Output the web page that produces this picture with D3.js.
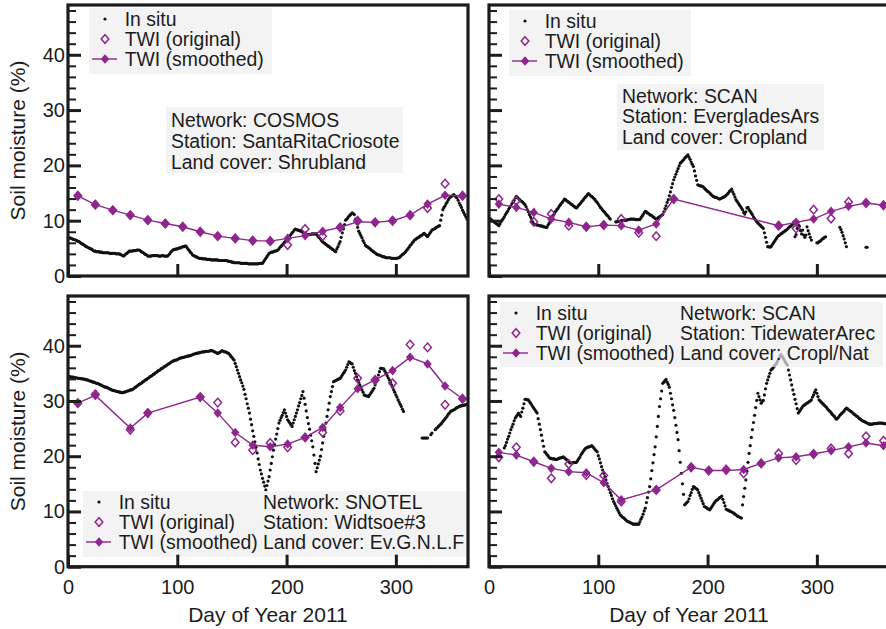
<!DOCTYPE html>
<html>
<head>
<meta charset="utf-8">
<script src="https://cdn.jsdelivr.net/npm/d3@7"></script>
<style>
  body { margin: 0; background: #fff; }
  svg { display: block; font-family: "Liberation Sans", Arial, sans-serif; }
</style>
</head>
<body>
<div id="area"></div>
<script>
// 16-day composite dates (day of year)
const twiDays = [9, 25, 41, 57, 73, 89, 105, 121, 137, 153, 169, 185, 201, 217, 233, 249, 265, 281, 297, 313, 329, 345, 361];

const xTickLabels = [0, 100, 200, 300];
const yTickLabels = [0, 10, 20, 30, 40];

const legendLabels = ['In situ', 'TWI (original)', 'TWI (smoothed)'];

// --- COSMOS / SantaRitaCriosote ---
const cosmosSmooth = [14.5, 12.9, 11.9, 11.0, 10.1, 9.5, 8.9, 8.0, 7.2, 6.8, 6.4, 6.3, 6.8, 7.3, 8.1, 8.8, 9.8, 9.7, 10.0, 11.0, 13.0, 14.6, 14.5];
const cosmosOrig = [14.5, 12.9, 11.9, 11.0, 10.1, 9.5, 8.9, 8.0, 7.2, 6.8, 6.4, 6.3, 5.6, 8.5, 7.2, 8.8, 10.0, 9.7, 10.0, 11.0, 12.3, 16.7, 14.5];
const cosmosInsitu = [
  6.9,6.9,6.8,6.7,6.6,6.6,6.5,6.4,6.3,6.2, 6.1,5.9,5.8,5.7,5.6,5.4,5.3,5.2,5.1,5.0,
  4.9,4.8,4.6,4.5,4.5,4.4,4.4,4.4,4.3,4.3, 4.3,4.2,4.2,4.2,4.2,4.2,4.2,4.1,4.1,4.1,
  4.1,4.1,4.1,4.0,4.0,4.0,4.0,3.9,3.8,3.7, 3.6,3.8,4.0,4.1,4.3,4.5,4.5,4.5,4.5,4.6,
  4.6,4.6,4.7,4.7,4.7,4.6,4.4,4.3,4.2,4.0, 3.9,3.8,3.6,3.6,3.6,3.6,3.7,3.7,3.7,3.7,
  3.7,3.7,3.6,3.6,3.6,3.7,3.7,3.6,3.6,3.6, 3.6,3.8,4.0,4.3,4.5,4.7,4.8,4.8,4.9,4.9,
  5.0,5.1,5.1,5.2,5.3,5.3,5.4,5.4,5.1,4.8, 4.6,4.3,4.1,3.8,3.7,3.6,3.5,3.4,3.3,3.2,
  3.2,3.2,3.1,3.1,3.1,3.1,3.0,3.0,3.0,3.0, 2.9,2.9,2.9,2.9,2.9,2.9,2.9,2.8,2.8,2.8,
  2.8,2.8,2.8,2.8,2.8,2.7,2.7,2.6,2.6,2.5, 2.5,2.4,2.4,2.4,2.4,2.4,2.4,2.3,2.3,2.3,
  2.3,2.3,2.3,2.3,2.2,2.2,2.2,2.2,2.2,2.2, 2.2,2.2,2.2,2.2,2.3,2.3,2.3,2.3,2.6,2.9,
  3.2,3.5,3.8,4.1,4.2,4.3,4.3,4.4,4.5,4.5, 4.6,4.7,4.9,5.2,5.4,5.6,5.8,6.1,6.3,6.6,
  6.8,7.0,7.3,7.5,7.8,8.0,8.3,8.5,8.4,8.3, 8.3,8.2,8.1,8.0,7.9,7.7,7.6,7.5,7.5,7.5,
  7.5,7.5,7.6,7.6,7.6,7.6,7.6,7.4,7.1,6.9, 6.7,6.4,6.2,6.0,5.9,5.7,5.6,5.4,5.3,5.1,
  5.0,4.8,4.7,4.5,4.4,4.9,5.3,5.8,6.2,7.0, 7.8,8.5,9.3,10.1,10.3,10.5,10.8,11.0,11.2,11.4,
  11.3,11.1,10.3,9.6,8.8,8.1,7.7,7.3,6.9,6.4, 6.0,5.6,5.4,5.3,5.1,5.0,4.8,4.6,4.5,4.3,
  4.2,4.0,3.9,3.8,3.8,3.7,3.6,3.5,3.5,3.4, 3.3,3.3,3.3,3.3,3.3,3.2,3.2,3.2,3.2,3.2,
  3.2,3.3,3.3,3.5,3.7,3.9,4.0,4.2,4.4,4.7, 4.9,5.2,5.5,5.7,6.0,6.2,6.5,6.6,6.8,6.9,
  7.0,7.2,7.3,7.4,7.6,7.7,7.5,7.3,7.1,7.4, 7.7,8.0,8.3,8.4,8.5,8.6,8.8,8.9,9.0,9.1,
  10.1,11.0,12.0,12.4,12.7,13.1,13.4,13.8,14.1,14.3, 14.4,14.6,14.7,14.5,14.3,14.1,13.7,13.2,12.8,12.4,
  11.9,11.5,11.1,10.7,10.3
];

// --- SCAN / EvergladesArs ---
const evergSmooth = [13.0, 12.4, 11.5, 10.3, 9.7, 8.9, 9.2, 9.1, 8.3, 9.4, 13.9, null, null, null, null, null, 9.1, 9.7, 10.3, 11.7, 12.6, 13.2, 12.8];
const evergOrig = [13.9, 13.6, 9.8, 11.2, 9.1, 8.9, 9.2, 10.3, 7.8, 7.2, 13.9, null, null, null, null, null, 9.1, 8.6, 12.0, 10.4, 13.4, 13.2, 12.8];
const evergInsitu = [
  10.4,10.2,10.0,9.9,9.7,9.6,9.4,9.3,9.1,9.4, 9.8,10.1,10.4,10.7,11.1,11.4,11.7,12.1,12.4,12.7,
  13.1,13.4,13.7,14.1,14.4,14.2,14.0,13.8,13.6,13.5, 13.3,13.1,12.9,12.5,12.0,11.6,11.1,10.7,10.3,9.8,
  9.4,9.3,9.3,9.2,9.2,9.1,9.1,9.0,9.0,8.9, 8.9,8.8,8.8,9.2,9.5,9.9,10.3,10.7,11.0,11.4,
  11.7,12.0,12.2,12.5,12.8,13.1,13.3,13.6,13.9,13.8, 13.6,13.5,13.3,13.2,13.0,12.9,12.7,12.6,12.4,12.3,
  12.5,12.8,13.0,13.2,13.5,13.7,14.0,14.2,14.4,14.7, 14.9,14.7,14.5,14.4,14.2,14.0,13.8,13.5,13.3,13.0,
  12.7,12.4,12.2,11.9,11.7,11.5,11.2,11.0,10.8,10.5, 10.3,null,null,null,null,9.8,9.8,9.9,9.9,9.9,
  10.0,10.0,10.0,10.1,10.1,10.1,10.2,10.2,10.3,10.3, 10.3,10.3,10.3,10.2,10.2,10.2,10.2,10.2,10.5,10.8,
  11.1,11.4,11.7,11.6,11.4,11.3,11.1,11.0,10.9,10.7, 10.6,10.4,10.3,10.4,10.6,10.7,10.8,11.0,11.1,11.6,
  12.2,12.7,13.3,13.8,14.5,15.2,16.0,16.7,17.4,17.9, 18.4,18.9,19.4,19.9,20.4,20.6,20.8,21.0,21.3,21.5,
  21.7,21.9,21.5,21.1,20.6,20.2,19.8,19.0,18.1,17.3, 16.5,16.4,16.3,16.3,16.2,16.1,15.9,15.7,15.5,15.3,
  15.2,15.0,14.8,14.6,14.4,14.3,14.2,14.2,14.1,14.0, 13.9,14.0,14.1,14.2,14.3,14.4,14.6,14.8,15.0,15.3,
  15.5,15.7,15.2,14.8,14.3,13.8,13.5,13.2,12.9,12.6, 12.3,12.0,11.5,11.2,11.6,12.3,12.4,12.0,11.7,11.4,
  11.1,10.7,10.4,10.1,9.8,9.6,9.4,9.2,9.0,8.8, 8.6,7.8,7.0,6.1,5.3,5.3,5.2,5.3,5.6,5.9,
  6.2,6.5,6.8,7.1,7.3,7.4,7.6,7.7,7.9,8.0, 8.2,8.3,8.5,8.7,8.9,9.0,9.2,9.4,9.8,7.1,
  7.5,8.6,9.2,9.0,8.2,7.6,8.3,7.4,7.0,7.4, 8.9,8.2,7.6,7.0,6.5,null,null,null,null,6.0,
  6.0,6.2,6.3,6.5,6.7,6.8,7.0,7.1,null,null, null,null,null,null,null,null,null,null,null,null,
  8.8,8.4,7.9,7.3,6.7,6.0,5.3,null,null,null, null,null,null,null,null,null,null,null,null,null,
  null,null,null,null,5.2,5.2,null,null,null,null, null,null,null,null,null,null,null,null,null,null,
  null,null,null,null,null
];

// --- SNOTEL / Widtsoe#3 ---
const snotelSmooth = [29.6, 31.0, null, 25.1, 27.8, null, null, 30.7, 27.8, 24.3, 22.0, 21.7, 22.2, 23.4, 25.2, 28.8, 32.2, 33.8, 35.5, 37.9, 36.7, 32.7, 30.4];
const snotelOrig = [29.6, 31.2, null, 24.8, 27.8, null, null, 30.7, 29.7, 22.5, 21.1, 22.4, 21.6, 23.4, 24.3, 28.2, 34.1, 33.8, 33.2, 40.2, 39.7, 29.3, 30.4];
const snotelInsitu = [
  34.4,34.4,34.3,34.3,34.3,34.2,34.2,34.2,34.1,34.1, 34.1,34.0,34.0,34.0,33.9,33.9,33.8,33.8,33.7,33.6,
  33.6,33.5,33.4,33.4,33.3,33.2,33.2,33.1,33.0,32.9, 32.8,32.7,32.6,32.5,32.5,32.4,32.3,32.2,32.1,32.0,
  31.9,31.9,31.8,31.8,31.7,31.7,31.6,31.6,31.5,31.5, 31.6,31.6,31.7,31.8,31.8,31.9,32.0,32.0,32.1,32.2,
  32.4,32.5,32.7,32.8,33.0,33.1,33.2,33.4,33.5,33.7, 33.8,33.9,34.1,34.2,34.4,34.5,34.6,34.8,34.9,35.1,
  35.2,35.4,35.5,35.6,35.8,35.9,36.0,36.2,36.3,36.4, 36.6,36.7,36.8,37.0,37.1,37.2,37.3,37.4,37.4,37.5,
  37.6,37.7,37.8,37.8,37.9,37.9,38.0,38.0,38.1,38.1, 38.2,38.2,38.3,38.4,38.5,38.5,38.6,38.6,38.7,38.7,
  38.8,38.8,38.9,38.9,38.9,39.0,39.0,39.0,39.0,39.1, 39.1,39.1,39.0,38.9,38.8,38.7,38.6,38.7,38.8,39.0,
  39.1,39.0,38.9,38.9,38.8,38.7,38.6,38.4,38.1,37.9, 37.6,37.4,36.8,36.2,35.6,35.0,34.4,33.8,33.3,32.7,
  32.1,31.2,30.4,29.5,28.7,27.8,26.7,25.7,24.6,23.6, 22.6,21.6,20.6,19.5,18.5,17.5,16.8,16.0,15.3,14.6,
  13.9,14.7,15.5,16.3,17.5,18.7,19.9,21.1,22.1,23.1, 24.0,25.0,26.0,26.5,27.0,27.4,27.9,28.4,27.8,27.2,
  26.6,26.3,26.0,25.7,25.4,26.0,26.6,27.2,27.8,28.4, 29.1,29.7,30.4,31.0,31.7,30.5,29.4,28.2,27.0,25.9,
  24.9,23.8,22.8,21.7,20.2,18.7,17.2,17.9,18.6,19.3, 20.0,21.2,22.4,23.6,24.8,26.0,27.2,28.4,29.6,30.8,
  31.7,32.6,33.5,33.6,33.7,33.8,33.9,34.0,34.1,34.4, 34.7,35.0,35.3,35.6,36.1,36.6,37.1,37.0,36.8,36.7,
  36.1,35.5,35.0,34.4,33.8,33.4,32.9,32.5,32.0,31.6, 31.1,31.0,30.9,30.9,30.8,31.1,31.4,31.7,32.0,32.3,
  32.9,33.5,34.1,34.7,35.3,35.9,35.9,35.8,35.8,35.4, 35.0,34.6,34.2,33.8,33.4,32.9,32.5,32.0,31.6,31.1,
  30.7,30.2,29.8,29.4,29.0,28.5,28.1,null,null,null, null,null,null,null,null,null,null,null,null,null,
  null,null,null,23.3,23.3,23.3,23.3,23.3,23.3,null, null,23.9,24.2,null,null,24.8,25.0,25.2,25.4,25.6,
  25.8,26.0,26.3,26.5,26.8,27.0,27.3,27.6,27.8,28.1, 28.2,28.3,28.4,28.5,28.7,28.8,28.9,29.0,29.1,29.1,
  29.2,29.2,29.3,29.3,29.4
];

// --- SCAN / TidewaterArec ---
const tideSmooth = [20.7, 20.2, 19.0, 17.8, 17.2, 17.0, 15.2, 12.1, null, 13.9, null, 18.0, 17.4, 17.4, 17.6, 18.7, 19.7, 19.9, 20.4, 21.0, 21.7, 22.4, 21.9];
const tideOrig = [19.8, 21.6, 19.0, 16.0, 18.6, 16.6, 16.5, 11.8, null, 13.9, null, 18.0, 17.4, 17.6, 16.9, 18.7, 20.5, 19.3, 20.4, 21.4, 20.5, 23.6, 22.8];
const tideInsitu = [
  null,null,null,null,null,null,null,null,null,null, null,null,null,21.5,21.9,22.5,23.1,23.6,24.2,24.8,
  25.3,25.8,26.4,26.9,27.2,27.5,27.8,27.5,27.2,28.0, 28.7,29.5,30.3,30.3,30.2,30.2,29.9,29.6,29.3,29.0,
  28.7,28.4,28.1,27.8,26.8,25.8,24.8,23.8,22.8,21.8, 20.8,20.6,20.3,20.1,19.8,19.6,19.6,19.5,19.5,19.5,
  19.4,19.4,19.5,19.6,19.7,19.7,19.8,19.9,19.7,19.5, 19.4,19.2,19.0,18.8,18.8,18.8,18.8,18.9,18.9,18.9,
  19.2,19.5,19.8,20.2,20.5,20.8,21.1,21.4,21.5,21.6, 21.7,21.7,21.8,21.9,21.7,21.5,21.2,21.0,20.8,20.1,
  19.5,18.8,18.1,17.5,16.9,16.3,15.7,15.1,14.5,14.0, 13.4,12.9,12.3,11.8,11.4,11.0,10.6,10.2,9.8,9.4,
  9.2,9.0,8.9,8.7,8.5,8.3,8.2,8.1,8.0,7.9, 7.8,7.7,7.7,7.7,7.7,7.7,7.7,8.1,8.6,9.0,
  9.5,10.1,10.6,11.6,12.5,13.5,14.5,15.9,17.4,18.8, 20.3,21.7,23.5,25.4,27.2,29.0,30.4,31.8,33.2,33.4,
  33.7,33.9,33.4,33.0,32.5,31.4,30.4,29.3,28.3,27.0, 25.6,24.3,23.0,21.0,18.9,16.9,15.0,13.1,11.2,11.4,
  11.6,11.8,12.3,12.9,13.4,14.0,14.5,14.4,14.2,14.1, 13.9,13.4,12.9,12.4,11.9,11.4,10.9,10.8,10.7,10.5,
  10.4,10.3,10.6,10.9,11.2,11.5,11.8,12.0,12.1,12.3, 12.5,12.6,12.8,12.2,11.6,11.0,10.4,10.3,10.2,10.1,
  10.0,9.9,9.8,9.7,9.5,9.4,9.2,9.1,9.0,8.9, 8.8,11.2,12.7,14.2,15.7,17.3,18.9,20.5,21.9,23.4,
  24.8,26.1,27.4,28.8,30.1,31.4,30.8,30.2,29.6,29.9, 30.1,31.1,32.2,33.2,33.8,34.4,35.0,35.6,35.8,36.0,
  36.3,36.6,36.8,37.2,37.6,38.0,38.4,38.1,37.8,37.5, 37.1,36.8,36.5,35.6,34.7,33.8,32.9,32.0,31.2,30.3,
  29.5,28.6,27.8,28.1,28.4,28.7,29.0,29.2,29.3,29.5, 29.6,29.7,29.9,30.0,30.2,30.7,31.1,31.6,32.0,31.4,
  30.8,30.2,30.0,29.8,29.6,29.4,29.2,29.0,28.8,28.5, 28.3,28.1,27.9,27.6,27.4,27.2,26.9,26.7,26.9,27.1,
  27.4,27.6,27.8,28.0,28.2,28.5,28.7,28.6,28.4,28.3, 28.1,28.0,27.8,27.6,27.5,27.3,27.2,27.0,26.8,26.7,
  26.5,26.4,26.3,26.2,26.1,26.0,25.9,25.8,25.8,25.8, 25.8,25.9,25.9,25.9,25.9,26.0,26.0,26.0,26.0,26.0,
  25.9,25.9,25.9,25.8,25.8
];

const purple = '#8f268e',
    ink = '#1c1c1c',
    box_fill = '#eeeeee';

const width = 886, height = 629;
const cols = [[68, 468], [489, 889]];
const rows = [[276, 5], [566.7, 296]];

const panels = [
  { col: 0, row: 0, insitu: cosmosInsitu, orig: cosmosOrig, smooth: cosmosSmooth,
    info: ['Network: COSMOS', 'Station: SantaRitaCriosote', 'Land cover: Shrubland'],
    legendBox: [89, 8, 183, 66], infoBox: [166, 107, 237, 66], infoX: 171, infoY: 126.5, infoStep: 21 },
  { col: 1, row: 0, insitu: evergInsitu, orig: evergOrig, smooth: evergSmooth,
    info: ['Network: SCAN', 'Station: EvergladesArs', 'Land cover: Cropland'],
    legendBox: [509, 10, 182, 66], infoBox: [617, 84, 207, 66], infoX: 622, infoY: 102.5, infoStep: 20.5 },
  { col: 0, row: 1, insitu: snotelInsitu, orig: snotelOrig, smooth: snotelSmooth,
    info: ['Network: SNOTEL', 'Station: Widtsoe#3', 'Land cover: Ev.G.N.L.F'],
    legendBox: [83, 491, 383, 66], infoBox: null, infoX: 263, infoY: 508.5, infoStep: 20 },
  { col: 1, row: 1, insitu: tideInsitu, orig: tideOrig, smooth: tideSmooth,
    info: ['Network: SCAN', 'Station: TidewaterArec', 'Land cover: Cropl/Nat'],
    legendBox: [500, 302, 383, 65], infoBox: null, infoX: 680, infoY: 319.5, infoStep: 20 }
];

const filledDiamond = 'M0,-4.8L4.2,0L0,4.8L-4.2,0Z';
const openDiamond = 'M0,-4.3L3.8,0L0,4.3L-3.8,0Z';

const svg = d3.select('#area').append('svg')
    .attr('width', width)
    .attr('height', height);

panels.forEach((p, k) => drawPanel(p, k));

// axis titles
[0, 1].forEach(r => {
    const cy = (rows[r][0] + rows[r][1]) / 2;
    svg.append('text')
        .attr('transform', `translate(25,${cy}) rotate(-90)`)
        .attr('text-anchor', 'middle')
        .attr('font-size', 21)
        .attr('fill', ink)
        .text('Soil moisture (%)');
});
[0, 1].forEach(c => {
    svg.append('text')
        .attr('x', (cols[c][0] + cols[c][1]) / 2)
        .attr('y', 622)
        .attr('text-anchor', 'middle')
        .attr('font-size', 21)
        .attr('fill', ink)
        .text('Day of Year 2011');
});

function drawPanel(p, k) {
    const x = d3.scaleLinear().domain([0, 366]).range(cols[p.col]);
    const y = d3.scaleLinear().domain([0, 49]).range(rows[p.row]);
    const [x0, x1] = cols[p.col];
    const [yb, yt] = rows[p.row];

    const clipId = 'clip' + k;
    svg.append('clipPath').attr('id', clipId)
        .append('rect').attr('x', x0).attr('y', yt).attr('width', x1 - x0).attr('height', yb - yt);

    const g = svg.append('g').attr('clip-path', `url(#${clipId})`);

    // in situ daily dots
    const pts = p.insitu.map((v, i) => ({ d: i + 1, v })).filter(o => o.v != null);
    g.append('g').attr('fill', '#111')
        .selectAll('circle').data(pts).join('circle')
        .attr('cx', o => x(o.d))
        .attr('cy', o => y(o.v))
        .attr('r', 1.6);

    const sm = twiDays.map((d, i) => ({ d, v: p.smooth[i] })).filter(o => o.v != null);
    const og = twiDays.map((d, i) => ({ d, v: p.orig[i] })).filter(o => o.v != null);

    g.append('path')
        .datum(sm)
        .attr('fill', 'none')
        .attr('stroke', purple)
        .attr('stroke-width', 1.4)
        .attr('d', d3.line().x(o => x(o.d)).y(o => y(o.v)));

    g.append('g').selectAll('path').data(og).join('path')
        .attr('transform', o => `translate(${x(o.d)},${y(o.v)})`)
        .attr('d', openDiamond)
        .attr('fill', 'none')
        .attr('stroke', purple)
        .attr('stroke-width', 1.5);

    g.append('g').selectAll('path').data(sm).join('path')
        .attr('transform', o => `translate(${x(o.d)},${y(o.v)})`)
        .attr('d', filledDiamond)
        .attr('fill', purple);

    // boxes
    const boxes = [p.legendBox];
    if (p.infoBox) boxes.push(p.infoBox);
    boxes.forEach(b => {
        svg.append('rect')
            .attr('x', b[0]).attr('y', b[1]).attr('width', b[2]).attr('height', b[3])
            .attr('fill', box_fill)
            .attr('fill-opacity', 0.7);
    });

    // legend
    const [bx, by] = p.legendBox;
    const lg = svg.append('g').attr('font-size', 19.4).attr('fill', ink);
    legendLabels.forEach((t, i) => {
        const base = by + 17.5 + i * 20;
        const cy = base - 6.5;
        const sx = bx + 16;
        if (i === 0) {
            lg.append('circle').attr('cx', sx).attr('cy', cy).attr('r', 1.6).attr('fill', '#111');
        } else if (i === 1) {
            lg.append('path').attr('transform', `translate(${sx},${cy})`).attr('d', openDiamond)
                .attr('fill', 'none').attr('stroke', purple).attr('stroke-width', 1.5);
        } else {
            lg.append('line').attr('x1', bx + 3).attr('x2', bx + 28).attr('y1', cy).attr('y2', cy)
                .attr('stroke', purple).attr('stroke-width', 1.4);
            lg.append('path').attr('transform', `translate(${sx},${cy})`).attr('d', filledDiamond)
                .attr('fill', purple);
        }
        lg.append('text').attr('x', bx + 35.7).attr('y', base).text(t);
    });

    // station info
    const ig = svg.append('g').attr('font-size', 19.4).attr('fill', ink);
    p.info.forEach((t, i) => {
        ig.append('text').attr('x', p.infoX).attr('y', p.infoY + i * p.infoStep).text(t);
    });

    // frame
    svg.append('rect')
        .attr('x', x0).attr('y', yt).attr('width', x1 - x0).attr('height', yb - yt)
        .attr('fill', 'none')
        .attr('stroke', ink)
        .attr('stroke-width', 3.2);

    // y axis ticks (inward)
    const yMajor = d3.axisLeft(y).tickValues(yTickLabels).tickSize(-13).tickPadding(3)
        .tickFormat(p.col === 0 ? d3.format('d') : '');
    const yMinor = d3.axisLeft(y).tickValues(d3.range(2, 49, 2).filter(v => v % 10 !== 0))
        .tickSize(-8).tickFormat('');
    const ya = svg.append('g').attr('transform', `translate(${x0},0)`).call(yMajor);
    const ym = svg.append('g').attr('transform', `translate(${x0},0)`).call(yMinor);
    ya.selectAll('line').attr('stroke', ink).attr('stroke-width', 3);
    ym.selectAll('line').attr('stroke', ink).attr('stroke-width', 2);

    const xa = svg.append('g').attr('transform', `translate(0,${yb})`)
        .call(d3.axisBottom(x).tickValues(xTickLabels).tickSize(-12).tickPadding(13)
            .tickFormat(p.row === 1 ? d3.format('d') : ''));
    xa.selectAll('line').attr('stroke', ink).attr('stroke-width', 3);

    [ya, ym, xa].forEach(a => {
        a.select('.domain').remove();
        a.selectAll('text').attr('font-size', 20).attr('fill', ink)
            .attr('font-family', '"Liberation Sans", Arial, sans-serif');
    });
}
</script>
</body>
</html>
